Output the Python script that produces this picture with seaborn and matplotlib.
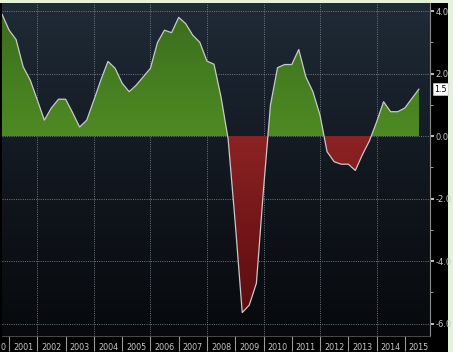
import matplotlib
matplotlib.use("Agg")
import matplotlib.pyplot as plt
import matplotlib.dates as mdates
from matplotlib.colors import LinearSegmentedColormap
from matplotlib.path import Path
import seaborn as sns
import pandas as pd
import numpy as np

# ---- data (quarterly) ----
start_quarter = "2000-10-01"
values = [3.9, 3.39, 3.09, 2.22, 1.79, 1.15, 0.51, 0.9, 1.18, 1.18,
          0.75, 0.29, 0.51, 1.15, 1.8, 2.39, 2.17, 1.69, 1.42, 1.63,
          1.9, 2.17, 2.99, 3.39, 3.31, 3.8, 3.6, 3.23, 3.0, 2.4,
          2.3, 1.25, -0.1, -2.8, -5.65, -5.41, -4.71, -1.7, 1.0, 2.19,
          2.29, 2.29, 2.77, 1.9, 1.42, 0.67, -0.5, -0.82, -0.9, -0.9,
          -1.1, -0.6, -0.15, 0.45, 1.1, 0.78, 0.78, 0.9, 1.2, 1.5]
years = list(range(2001, 2016))
grid_years = [2002, 2004, 2006, 2008, 2010, 2012, 2014]
y_ticks = [4.0, 2.0, 0.0, -2.0, -4.0, -6.0]
y_minor = [3.0, 1.0, -1.0, -3.0, -5.0]
last_label = "1.5"

df = pd.DataFrame({"date": pd.date_range(start_quarter, periods=len(values), freq="QS"),
                   "value": values})

W, H = 453, 352
fig = plt.figure(figsize=(W / 100, H / 100), dpi=100)
fig.patch.set_facecolor("#e4f2dc")

# black frame panel behind everything
frame = fig.add_axes([0, 0, 448 / W, 349 / H])
frame.set_facecolor("black")
frame.set_xticks([]); frame.set_yticks([])
for s in frame.spines.values():
    s.set_visible(False)

ax = fig.add_axes([2 / W, 16 / H, 428 / W, 333 / H])
ax.set_facecolor("black")

xd = mdates.date2num(df["date"])
y = df["value"].to_numpy()
x0 = mdates.date2num(pd.Timestamp(start_quarter))
x1 = mdates.date2num(pd.Timestamp("2015-11-22"))
ymin, ymax = -6.4, 4.26
ax.set_xlim(x0, x1)
ax.set_ylim(ymin, ymax)

# background gradient
bg = LinearSegmentedColormap.from_list("bg", ["#07090c", "#121820", "#1f2b37"])
ax.imshow(np.linspace(0, 1, 256).reshape(-1, 1), cmap=bg, origin="lower",
          extent=[0, 1, 0, 1], transform=ax.transAxes, aspect="auto", zorder=0)

# grid
for yt in y_ticks:
    ax.axhline(yt, color="#7a848e", lw=0.6, ls=(0, (1.2, 1.5)), zorder=1)
for gy in grid_years:
    ax.axvline(mdates.date2num(pd.Timestamp(f"{gy}-01-01")), color="#7a848e",
               lw=0.6, ls=(0, (1.2, 1.5)), zorder=1)

# fills with gradients
def gradient_fill(mask, colors, lo, hi):
    poly = ax.fill_between(xd, y, 0, where=mask, interpolate=True,
                           color=colors[0], lw=0, zorder=2)
    path = Path.make_compound_path(*poly.get_paths())
    cm = LinearSegmentedColormap.from_list("g", colors)
    im = ax.imshow(np.linspace(0, 1, 256).reshape(-1, 1), cmap=cm, origin="lower",
                   extent=[x0, x1, lo, hi], aspect="auto", zorder=3)
    im.set_clip_path(path, transform=ax.transData)

gradient_fill(y >= 0, ["#4e8a23", "#447d20", "#3b6c1d"], 0, 4.0)
gradient_fill(y <= 0, ["#5a0d0f", "#741619", "#8c2324"], -5.7, 0)

sns.lineplot(x=xd, y=y, ax=ax, color="#c8c8c8", lw=0.9, zorder=4)
ax.set_xlim(x0, x1)
ax.set_ylim(ymin, ymax)

# axes styling
for side in ["top", "left"]:
    ax.spines[side].set_visible(False)
ax.spines["right"].set_color("#8a8a8a")
ax.spines["right"].set_linewidth(0.8)
ax.spines["bottom"].set_color("#555555")
ax.spines["bottom"].set_linewidth(0.6)

ax.yaxis.tick_right()
ax.set_yticks(y_ticks)
ax.set_yticklabels([f"{v:.1f}" for v in y_ticks])
ax.set_yticks(y_minor, minor=True)
ax.tick_params(axis="y", which="major", colors="#e0e0e0", labelcolor="#c8c8c8",
               length=3, width=1.2, pad=1, labelsize=6, direction="out")
ax.tick_params(axis="y", which="minor", colors="#bbbbbb", length=2, width=0.6)

# x axis: separators at year boundaries, labels at year centers
sep = [mdates.date2num(pd.Timestamp(f"{yr}-01-01")) for yr in years]
lab_pos = [mdates.date2num(pd.Timestamp("2000-10-12"))] + \
          [mdates.date2num(pd.Timestamp(f"{yr}-07-02")) for yr in years]
lab_txt = ["0"] + [str(yr) for yr in years]
ax.set_xticks(sep)
ax.set_xticklabels([""] * len(sep))
ax.set_xticks(lab_pos, minor=True)
ax.set_xticklabels(lab_txt, minor=True)
ax.tick_params(axis="x", which="major", colors="#9a9a9a", length=11, width=0.8,
               direction="out")
ax.tick_params(axis="x", which="minor", length=0, pad=5, labelsize=5.8,
               labelcolor="#c8c8c8")
ax.set_xlabel("")
ax.set_ylabel("")

# last value tag
ax.annotate(last_label, xy=(1.0, values[-1]), xycoords=("axes fraction", "data"),
            xytext=(3, 0), textcoords="offset points", va="center", ha="left",
            fontsize=5.8, color="black",
            bbox=dict(boxstyle="square,pad=0.2", fc="white", ec="#cccccc", lw=0.5))

fig.savefig("out.png", dpi=100, facecolor=fig.get_facecolor())
